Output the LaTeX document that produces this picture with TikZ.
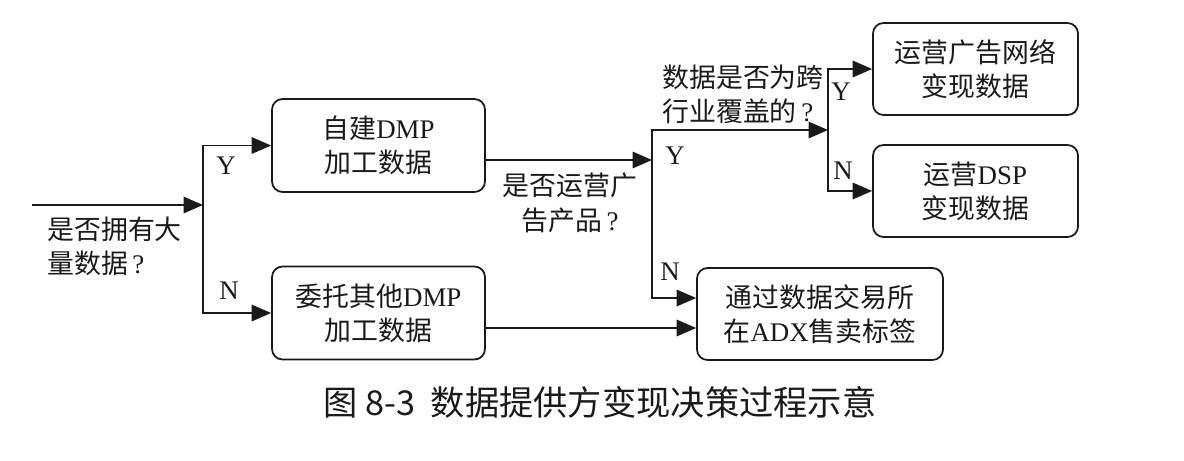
\documentclass[tikz,border=0pt]{standalone}
\usepackage{fontspec}
\setmainfont{Liberation Serif}
\newfontfamily\zhfont{Noto Sans CJK SC}
\usepackage{tikz}
\usetikzlibrary{arrows.meta,calc,positioning}
\usepackage{xcolor}
\definecolor{ink}{HTML}{1A1A1A}
\newcommand{\zh}[1]{{\zhfont #1}}
\newcommand{\bodysize}{\fontsize{15.3}{19.5}\selectfont}
\tikzset{stepbox/.style={draw=ink,rounded corners=6pt,line width=1pt,align=center,minimum width=4.26cm,minimum height=1.86cm,font=\bodysize,text=ink}, flow/.style={draw=ink,line width=1pt,-{Triangle[length=3.9mm,width=3.3mm]}}, ask/.style={font=\bodysize,text=ink,inner sep=0pt}, yn/.style={font=\bodysize,text=ink,inner sep=0pt}}

\begin{document}
\begin{tikzpicture}
\useasboundingbox (0,0) rectangle (23.68,9.2);
\node[stepbox] (own) at (7.57,6.29) {\zh{自建}DMP\\\zh{加工数据}};
\node[stepbox] (other) at (7.57,2.94) {\zh{委托其他}DMP\\\zh{加工数据}};
\node[stepbox,minimum width=4.1cm,minimum height=1.84cm] (net) at (19.51,7.82) {\zh{运营广告网络}\\\zh{变现数据}};
\node[stepbox,minimum width=4.1cm,minimum height=1.84cm] (dsp) at (19.51,5.38) {\zh{运营}DSP\\\zh{变现数据}};
\node[stepbox,minimum width=4.92cm,minimum height=1.84cm] (adx) at (16.4,2.92) {\zh{通过数据交易所}\\\zh{在}ADX\zh{售卖标签}};
\coordinate (start) at (0.64,5.1);
\coordinate (j1) at (4.06,5.1);
\coordinate (j2) at (13.04,6.0);
\coordinate (j3) at (16.56,6.6);
\coordinate (oout) at ([yshift=-3mm]other.east);
% decisions
\draw[flow] (start) -- (j1);
\draw[flow] (j1) |- (own.west);
\draw[flow] (j1) |- (other.west);
\draw[flow] (own.east |- j2) -- (j2);
\draw[flow] (j2) |- (j3);
\draw[flow] (j2) |- ([yshift=3.2mm]adx.west);
\draw[flow] (j3) |- (net.west);
\draw[flow] (j3) |- (dsp.west);
\draw[flow] (oout) -- (oout -| adx.west);
\node[ask,align=left,anchor=west] (q1) at (0.94,4.27) {\zh{是否拥有大}\\\zh{量数据}\,?};
\node[ask,align=center] (q2) at (11.4,5.14) {\zh{是否运营广}\\\zh{告产品}\,?};
\node[ask,align=left,anchor=west] (q3) at (13.24,7.31) {\zh{数据是否为跨}\\\zh{行业覆盖的}\,?};
\foreach \txt/\x/\y [count=\i] in {Y/4.52/5.88,N/4.58/3.38,Y/13.5/6.08,N/13.4/3.76,Y/16.82/7.36,N/16.86/5.78}
 \node[yn] (yn\i) at (\x,\y) {\txt};
\node[font=\zhfont\fontsize{19.5}{22}\selectfont,text=ink] (cap) at (12.0,1.16) {图 8-3\ \ 数据提供方变现决策过程示意};
\end{tikzpicture}
\end{document}
